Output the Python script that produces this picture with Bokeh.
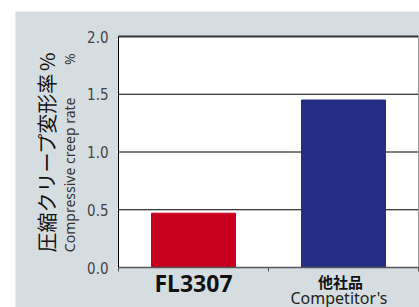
import numpy as np
from bokeh.plotting import figure
from bokeh.models import (Range1d, FixedTicker, NumeralTickFormatter, Label, LinearAxis,
                          ColumnDataSource)
from bokeh.embed import file_html
from bokeh.resources import INLINE

categories = ["FL3307", "他社品"]
sub_labels = ["", "Competitor's"]
values = [0.47, 1.45]
colors = ["#c8001e", "#232f84"]
y_ticks = [0.0, 0.5, 1.0, 1.5, 2.0]

n = len(categories)
ymax = y_ticks[-1]
xpos = np.arange(n) + 0.5
src = ColumnDataSource(dict(x=xpos, top=values, color=colors))

# layout constants (pixels per data unit and frame offsets)
SX, SY = 150.0, 115.5
x0, x1 = -118 / SX, n + 1 / SX
y0, y1 = -40 / SY, ymax + 36 / SY

p = figure(width=419, height=307, output_backend="svg", toolbar_location=None,
           x_range=Range1d(x0, x1), y_range=Range1d(y0, y1),
           x_axis_location=None, y_axis_location=None, min_border=0)
p.background_fill_color = "white"
p.border_fill_color = "white"
p.outline_line_color = None
p.grid.visible = False

# grey panel
p.quad(left=[-103 / SX], right=[x1], bottom=[y0], top=[ymax + 25 / SY],
       fill_color="#d6dde0", line_color=None)
# white plot area
p.quad(left=[0], right=[n], bottom=[0], top=[ymax], fill_color="white", line_color=None)

# grid lines
gy = y_ticks[1:-1]
p.segment(x0=[0] * len(gy), x1=[n] * len(gy), y0=gy, y1=gy, line_color="black", line_width=1)
p.segment(x0=[0], x1=[n], y0=[ymax], y1=[ymax], line_color="#333333", line_width=2)
p.segment(x0=[n], x1=[n], y0=[0], y1=[ymax], line_color="#999999", line_width=1)

p.vbar(x="x", top="top", width=0.56, color="color", source=src)

# y axis
ya = LinearAxis(fixed_location=0, bounds=(0, ymax))
ya.ticker = FixedTicker(ticks=y_ticks)
ya.formatter = NumeralTickFormatter(format="0.0")
ya.major_label_text_font = "DejaVu Sans Condensed"
ya.major_label_text_font_size = "15px"
ya.major_label_text_color = "#444444"
ya.major_tick_out = 0
ya.major_tick_in = 0
ya.minor_tick_line_color = None
ya.major_label_standoff = 10
ya.axis_line_color = "black"
p.add_layout(ya, "left")

# x axis
xa = LinearAxis(fixed_location=0, bounds=(0, n))
xa.ticker = FixedTicker(ticks=list(range(n + 1)))
xa.major_label_text_font_size = "0px"
xa.major_label_text_color = None
xa.major_tick_out = 4
xa.major_tick_in = 0
xa.minor_tick_line_color = None
xa.axis_line_color = "#555555"
xa.major_tick_line_color = "#555555"
xa.axis_line_width = 1.5
p.add_layout(xa, "below")

# category labels
p.add_layout(Label(x=xpos[0], y=-0.1385, text=categories[0], text_align="center",
                   text_baseline="middle", text_font="Noto Sans", text_font_style="bold",
                   text_font_size="23px", text_color="#111111"))
p.add_layout(Label(x=xpos[1] - 0.02, y=-0.121, text=categories[1], text_align="center",
                   text_baseline="middle", text_font="Noto Sans CJK JP", text_font_style="bold",
                   text_font_size="15px", text_color="#111111"))
p.add_layout(Label(x=xpos[1] - 0.03, y=-0.26, text=sub_labels[1], text_align="center",
                   text_baseline="middle", text_font="Noto Sans",
                   text_font_size="16px", text_color="#222222"))

# y-axis title
p.add_layout(Label(x=-0.48, y=1.688, text="圧縮クリープ変形率", angle=np.pi / 2, text_align="right",
                   text_baseline="middle", text_font="Noto Sans CJK JP", text_font_size="20px",
                   text_color="#111111"))
p.add_layout(Label(x=-0.48, y=1.861, text="%", angle=np.pi / 2, text_align="right",
                   text_baseline="middle", text_font="Noto Sans CJK JP", text_font_size="20px",
                   text_color="#111111"))
p.add_layout(Label(x=-0.327, y=1.472, text="Compressive creep rate", angle=np.pi / 2, text_align="right",
                   text_baseline="middle", text_font="Noto Sans", text_font_size="14px",
                   text_color="#333333"))
p.add_layout(Label(x=-0.327, y=1.853, text="%", angle=np.pi / 2, text_align="right",
                   text_baseline="middle", text_font="Noto Sans", text_font_size="14px",
                   text_color="#333333"))

open("out.html", "w").write(file_html(p, INLINE))
